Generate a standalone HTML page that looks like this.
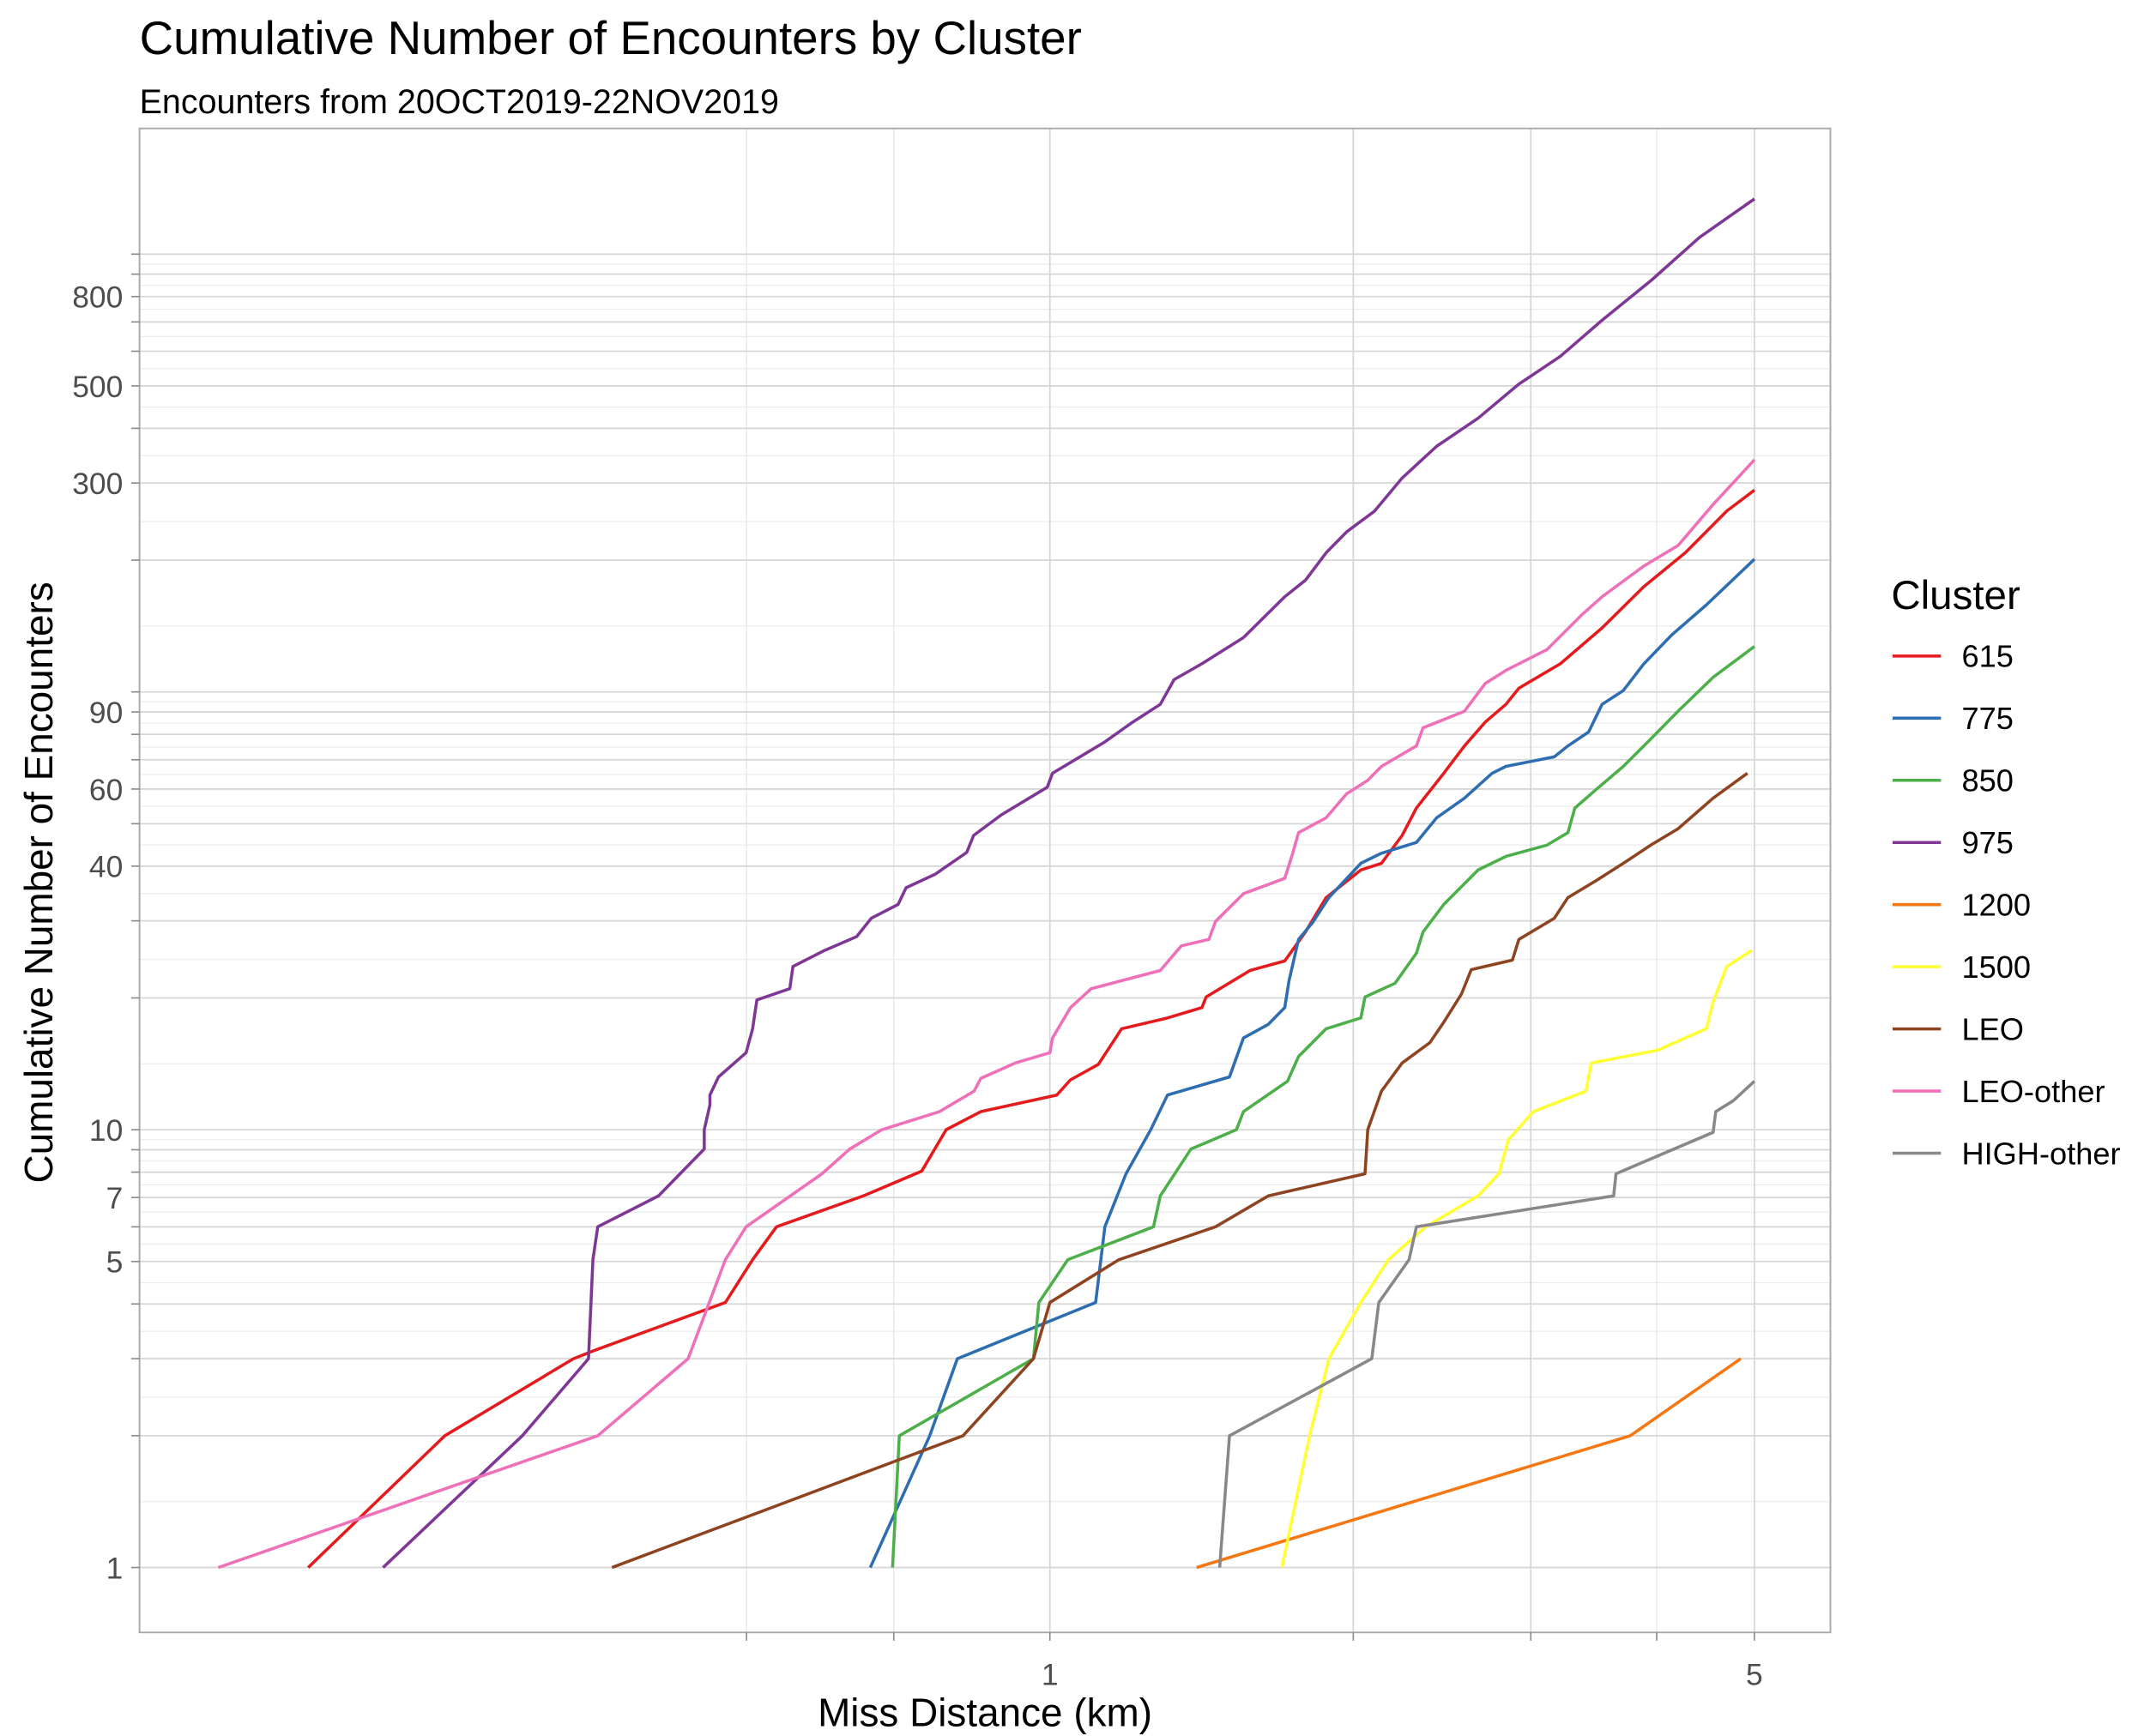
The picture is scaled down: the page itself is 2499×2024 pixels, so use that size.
<!DOCTYPE html>
<html><head><meta charset="utf-8">
<style>
html,body{margin:0;padding:0;background:#fff;}
svg{display:block;font-family:"Liberation Sans",Arial,sans-serif;}
</style></head>
<body>
<svg id="chart" width="2499" height="2024" viewBox="0 0 1552 1257" xmlns="http://www.w3.org/2000/svg">
<rect x="0" y="0" width="1552" height="1257" fill="#fff"/>
<text x="101" y="39" font-size="34" fill="#000">Cumulative Number of Encounters by Cluster</text>
<text x="101" y="82" font-size="24.5" fill="#000">Encounters from 20OCT2019-22NOV2019</text>
<g id="grid"></g>
<g id="series"></g>
<rect x="101" y="93" width="1224" height="1089" fill="none" stroke="#aaaaaa" stroke-width="1.2"/>
<g id="axes"></g>
<text x="713" y="1250" font-size="28.5" text-anchor="middle" fill="#000">Miss Distance (km)</text>
<text transform="translate(38,639) rotate(-90)" font-size="28.5" text-anchor="middle" fill="#000">Cumulative Number of Encounters</text>
<g id="legend">
<text x="1369" y="441" font-size="29.5" fill="#000">Cluster</text>
</g>
</svg>
<script>
const xMajor=[1,2,3,5];
const xMinor=[0.5,0.7,4];
const xTickLabels=[1,5];
const yGrid=[1,2,3,4,5,6,7,8,9,10,20,30,40,50,60,70,80,90,100,200,300,400,500,600,700,800,900,1000];
const yTickLabels=[1,5,7,10,40,60,90,300,500,800];
const seriesNames=["615","775","850","975","1200","1500","LEO","LEO-other","HIGH-other"];
const seriesColors=["#E41A1C","#2E6DB0","#4DAF4A","#7E3795","#F57712","#FFFF33","#8E4420","#EE70B8","#888888"];
const s615x=[0.1837,0.251,0.3367,0.353,0.4765,0.507,0.5355,0.653,0.746,0.789,0.854,1.016,1.048,1.117,1.178,1.308,1.415,1.429,1.58,1.71,1.793,1.88,2.035,2.133,2.236,2.31,2.459,2.578,2.703,2.834,2.92,3.21,3.53,3.885,4.27,4.695,5.0];
const s615y=[1,2,3,3.13,4.03,5.05,6,7.06,8.04,10,11,12,13,14.1,17,18,19,20.1,23.1,24.3,28.3,33.9,39.2,40.6,47,54.3,65.2,75.3,85.3,93.7,102,116,140,174,208,259,289];
const s775x=[0.6635,0.760,0.8094,1.110,1.134,1.19,1.259,1.308,1.507,1.556,1.647,1.71,1.727,1.765,1.822,1.892,2.035,2.133,2.31,2.42,2.578,2.746,2.834,3.165,3.266,3.424,3.53,3.706,3.885,4.14,4.48,5.0];
const s775y=[1,2,3,4.03,6,7.93,10,12,13.2,16.2,17.4,19,21.9,27.2,29.7,33.9,40.6,42.8,45.3,51.6,57.2,65.2,67.6,71.1,75.3,81,93.7,100.7,116,135,158,201];
const s850x=[0.698,0.709,0.963,0.975,1.042,1.267,1.287,1.38,1.531,1.556,1.721,1.765,1.88,2.035,2.054,2.2,2.31,2.345,2.459,2.66,2.834,3.114,3.266,3.318,3.478,3.706,3.947,4.2,4.55,5.0];
const s850y=[1,2,3,4.03,5.05,6,7.06,9.03,10,11,12.9,14.7,17,18,20.1,21.6,25.3,28.3,32.7,39.2,42.1,44.7,47.7,54.3,59.7,67.6,78.1,90.3,108,127];
const s975x=[0.218,0.2996,0.3485,0.352,0.356,0.409,0.454,0.454,0.46,0.46,0.469,0.4995,0.507,0.512,0.552,0.556,0.598,0.643,0.665,0.707,0.72,0.769,0.827,0.84,0.895,0.994,1.006,1.048,1.134,1.208,1.287,1.328,1.415,1.556,1.71,1.793,1.88,1.97,2.10,2.236,2.42,2.66,2.92,3.21,3.53,3.95,4.41,5.0];
const s975y=[1,2,3,5.05,6,7.06,9.03,10,11.4,12,13.2,15,17,19.8,21,23.6,25.7,27.6,30.4,32.7,35.7,38.3,43,47,52.4,60.6,65.2,69,76.9,85.3,93.7,106.7,116,133,165,180,208,232,259,308,364,422,505,584,706,871,1092,1337];
const s1200x=[1.398,3.765,4.846];
const s1200y=[1,2,3];
const s1500x=[1.699,1.81,1.892,2.035,2.167,2.36,2.66,2.789,2.851,3.018,3.402,3.445,4.01,4.48,4.55,4.695,4.97];
const s1500y=[1,2,3,4.03,5.05,6,7.06,7.93,9.5,11,12.25,14.2,15.2,17,19.6,23.6,25.7];
const sLEOx=[0.3677,0.82,0.963,1.0,1.171,1.46,1.647,2.054,2.067,2.133,2.236,2.382,2.459,2.56,2.618,2.877,2.92,3.165,3.266,3.478,3.706,3.947,4.2,4.55,4.92];
const sLEOy=[1,2,3,4.03,5.05,6,7.06,7.93,10,12.25,14.2,15.8,17.6,20.4,23.2,24.4,27.2,30.4,33.9,37,40.6,44.7,48.7,57.2,65.2];
const sLEOotherx=[0.1496,0.356,0.4375,0.4765,0.4995,0.594,0.633,0.681,0.777,0.841,0.854,0.924,1.0,1.006,1.048,1.099,1.287,1.35,1.438,1.46,1.556,1.71,1.738,1.765,1.88,1.97,2.067,2.133,2.31,2.345,2.578,2.703,2.834,3.114,3.37,3.53,3.885,4.2,4.55,5.0];
const sLEOothery=[1,2,3,5.05,6,7.93,9.03,10,11,12.25,13.1,14.2,15,16.2,19,21,23.1,26.3,27.2,29.9,34.6,37.5,42.1,47.7,51.6,58.5,62.8,67.6,75.3,82.8,90.3,104.5,112,125,150,165,194,216,268,339];
const sHIGHx=[1.474,1.507,2.086,2.12,2.272,2.31,3.625,3.645,4.55,4.577,4.765,5.0];
const sHIGHy=[1,2,3,4.03,5.05,6,7.06,7.93,9.86,11,11.65,12.9];
const seriesX=[s615x,s775x,s850x,s975x,s1200x,s1500x,sLEOx,sLEOotherx,sHIGHx];
const seriesY=[s615y,s775y,s850y,s975y,s1200y,s1500y,sLEOy,sLEOothery,sHIGHy];

const NS="http://www.w3.org/2000/svg";
const PL=101,PR=1325,PT=93,PB=1182;
function xs(v){return 760+729.6*Math.log10(v);}
function ys(v){return 1135-317*Math.log10(v);}
function mk(tag,attrs,parent){const e=document.createElementNS(NS,tag);for(const k in attrs)e.setAttribute(k,attrs[k]);parent.appendChild(e);return e;}
const grid=document.getElementById('grid'),axes=document.getElementById('axes'),ser=document.getElementById('series'),leg=document.getElementById('legend');
for(let i=0;i<yGrid.length-1;i++){
  const m=Math.sqrt(yGrid[i]*yGrid[i+1]);
  const l=mk('line',{x1:PL,x2:PR,y1:ys(m),y2:ys(m),stroke:'#ececec','stroke-width':0.8},grid);
  
  
}
xMinor.forEach(v=>{
  const l=mk('line',{x1:xs(v),x2:xs(v),y1:PT,y2:PB,stroke:'#e6e6e6','stroke-width':0.8},grid);
  
  
});
yGrid.forEach(v=>{
  const y=ys(v);if(y<PT)return;
  const l=mk('line',{x1:PL,x2:PR,y1:y,y2:y,stroke:'#d6d6d6','stroke-width':1.1},grid);
  
  
  const t=mk('line',{x1:PL-6,x2:PL,y1:y,y2:y,stroke:'#888','stroke-width':1},axes);
  
  
});
xMajor.forEach(v=>{
  const x=xs(v);
  const l=mk('line',{x1:x,x2:x,y1:PT,y2:PB,stroke:'#d6d6d6','stroke-width':1.1},grid);
  
  
});
xMajor.concat(xMinor).forEach(v=>{
  const x=xs(v);
  const t=mk('line',{x1:x,x2:x,y1:PB,y2:PB+6,stroke:'#888','stroke-width':1},axes);
  
  
});
yTickLabels.forEach(v=>{
  const t=mk('text',{x:PL-12,y:ys(v)+8,'font-size':22,'text-anchor':'end',fill:'#4d4d4d'},axes);
  t.textContent=String(v);
  
  
});
xTickLabels.forEach(v=>{
  const t=mk('text',{x:xs(v),y:PB+38,'font-size':22,'text-anchor':'middle',fill:'#4d4d4d'},axes);
  t.textContent=String(v);
  
  
});
seriesNames.forEach((n,i)=>{
  const xsv=seriesX[i],ysv=seriesY[i];
  const pts=xsv.map((x,j)=>xs(x).toFixed(1)+','+ys(ysv[j]).toFixed(1)).join(' ');
  const p=mk('polyline',{points:pts,fill:'none',stroke:seriesColors[i],'stroke-width':2.2,'stroke-linejoin':'round'},ser);
  
  
  const ly=475+45*i;
  const g=mk('g',{},leg);
  
  
  mk('line',{x1:1370,x2:1405,y1:ly,y2:ly,stroke:seriesColors[i],'stroke-width':2.2},g);
  const t=mk('text',{x:1420,y:ly+8,'font-size':22.5,fill:'#000'},g);
  t.textContent=n;
});
</script>
</body></html>
